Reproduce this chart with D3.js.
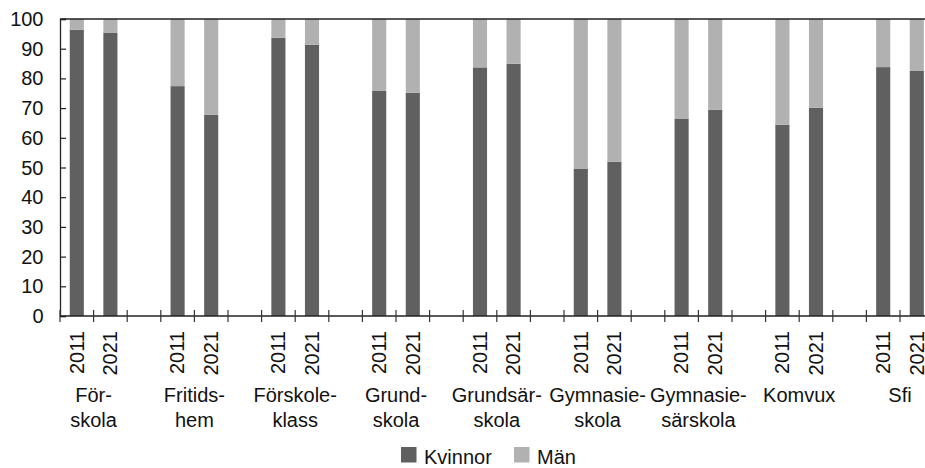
<!DOCTYPE html>
<html>
<head>
<meta charset="utf-8">
<script src="https://cdn.jsdelivr.net/npm/d3@7"></script>
<style>
  html, body { margin: 0; padding: 0; background: #fff; overflow: hidden; }
  svg { display: block; font-family: "Liberation Sans", Arial, sans-serif; }
</style>
</head>
<body>
<svg id="chart" width="925" height="468"></svg>
<script>
const categories = [
  ["För-", "skola"],
  ["Fritids-", "hem"],
  ["Förskole-", "klass"],
  ["Grund-", "skola"],
  ["Grundsär-", "skola"],
  ["Gymnasie-", "skola"],
  ["Gymnasie-", "särskola"],
  ["Komvux"],
  ["Sfi"]
];
const years = ["2011", "2021"];
const kvinnor2011 = [96.4, 77.4, 93.7, 75.9, 83.7, 49.5, 66.5, 64.4, 83.8];
const kvinnor2021 = [95.3, 67.7, 91.3, 75.2, 84.9, 51.9, 69.4, 70.1, 82.5];
const yTicks = [0, 10, 20, 30, 40, 50, 60, 70, 80, 90, 100];
const seriesNames = ["Kvinnor", "Män"];
const colors = ["#606060", "#b1b1b1"];

(function () {
const svg = d3.select("#chart");
const mLeft = 60, mTop = 19, mBottom = 316;
const slotW = 33.6;

const slots = [];
categories.forEach((c, i) => {
  slots.push({id: i + "-0", cat: i, year: years[0], k: kvinnor2011[i]});
  slots.push({id: i + "-1", cat: i, year: years[1], k: kvinnor2021[i]});
  if (i < categories.length - 1) slots.push({id: i + "-s", cat: i, spacer: true});
});
const mRight = mLeft + slots.length * slotW;

const x = d3.scaleBand()
  .domain(slots.map(d => d.id))
  .range([mLeft, mRight])
  .paddingInner(0.58)
  .paddingOuter(0.29);
const y = d3.scaleLinear().domain([0, 100]).range([mBottom, mTop]);

const fs = 20;

const bars = slots.filter(d => !d.spacer);
const stackRows = bars.map(d => ({id: d.id, Kvinnor: d.k, "Män": 100 - d.k}));
const stacked = d3.stack().keys(seriesNames)(stackRows);
svg.append("g").selectAll("g").data(stacked).join("g")
  .attr("fill", (d, i) => colors[i])
  .selectAll("rect").data(d => d).join("rect")
  .attr("x", d => x(d.data.id))
  .attr("width", x.bandwidth())
  .attr("y", d => y(d[1]))
  .attr("height", d => y(d[0]) - y(d[1]));

svg.append("line")
  .attr("x1", mLeft).attr("x2", mRight)
  .attr("y1", y(100)).attr("y2", y(100))
  .attr("stroke", "#222").attr("stroke-width", 1.3);

const yAxis = d3.axisRight(y).tickValues(yTicks).tickSize(6).tickFormat("");
const gy = svg.append("g").attr("transform", `translate(${mLeft},0)`).call(yAxis);
gy.select(".domain").attr("stroke", "#222").attr("stroke-width", 1.3);
gy.selectAll(".tick line").attr("stroke", "#222").attr("stroke-width", 1.2);
svg.append("g").selectAll("text").data(yTicks).join("text")
  .attr("x", 43.5).attr("y", d => y(d))
  .attr("dy", "0.35em")
  .attr("text-anchor", "end")
  .attr("font-size", fs)
  .attr("fill", "#111")
  .text(d => d);

svg.append("line")
  .attr("x1", mLeft).attr("x2", mRight)
  .attr("y1", mBottom).attr("y2", mBottom)
  .attr("stroke", "#222").attr("stroke-width", 1.3);

const boundaries = d3.range(slots.length + 1).map(i => i === slots.length ? mRight : x(slots[i].id) - x.step() * x.paddingInner() / 2);
svg.append("g").selectAll("line").data(boundaries).join("line")
  .attr("x1", d => d).attr("x2", d => d)
  .attr("y1", mBottom - 6).attr("y2", mBottom + 6)
  .attr("stroke", "#333").attr("stroke-width", 1.2);

svg.append("g").selectAll("text").data(bars).join("text")
  .attr("transform", d => `translate(${x(d.id) + x.bandwidth() / 2 + 6.8},331) rotate(-90)`)
  .attr("text-anchor", "end")
  .attr("font-size", fs)
  .attr("fill", "#111")
  .text(d => d.year);

const catG = svg.append("g").selectAll("text").data(categories).join("text")
  .attr("x", (d, i) => (x(i + "-0") + x(i + "-1") + x.bandwidth()) / 2)
  .attr("y", 401.5)
  .attr("text-anchor", "middle")
  .attr("font-size", fs)
  .attr("fill", "#111");
catG.selectAll("tspan").data(d => d).join("tspan")
  .attr("x", function() { return this.parentNode.getAttribute("x"); })
  .attr("dy", (d, i) => i === 0 ? 0 : 25.5)
  .text(d => d);

const legendX = [401, 514];
const lg = svg.append("g").selectAll("g").data(seriesNames).join("g")
  .attr("transform", (d, i) => `translate(${legendX[i]},447)`);
lg.append("rect").attr("width", 15.5).attr("height", 15.5).attr("fill", (d, i) => colors[i]);
lg.append("text").attr("x", 23).attr("y", 16.5)
  .attr("font-size", fs).attr("fill", "#111").text(d => d);
})();
</script>
</body>
</html>
